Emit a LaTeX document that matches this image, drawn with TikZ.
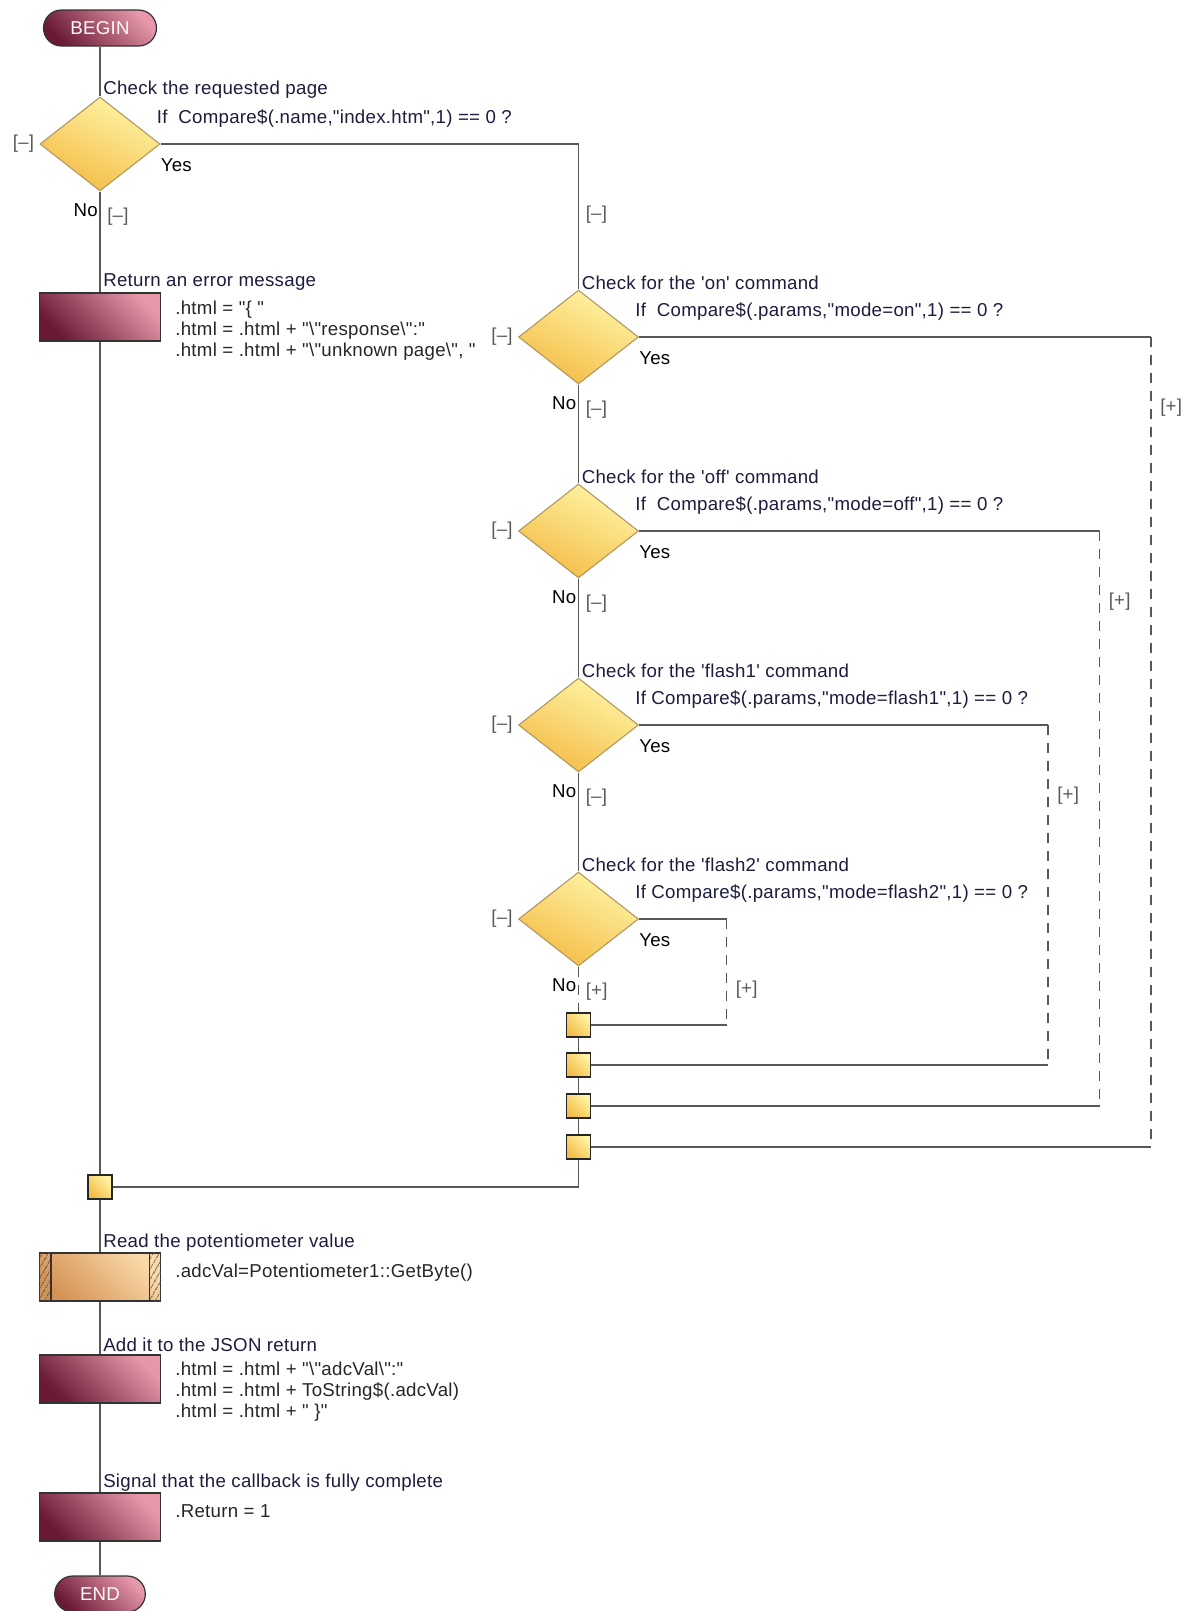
\documentclass[tikz,border=0pt]{standalone}
\usepackage{fontspec}
\setmainfont{Liberation Sans}[Ligatures=TeXOff, LetterSpace=1.5]
\usetikzlibrary{shapes.geometric,arrows,positioning,calc,patterns.meta}

\definecolor{maroonD}{RGB}{105,25,52}
\definecolor{maroonL}{RGB}{230,152,170}
\definecolor{goldL}{RGB}{255,244,165}
\definecolor{goldD}{RGB}{244,188,70}
\definecolor{goldE}{RGB}{175,150,95}
\definecolor{tanL}{RGB}{251,218,170}
\definecolor{tanD}{RGB}{212,146,84}
\definecolor{wire}{RGB}{88,88,88}
\definecolor{ink}{RGB}{28,28,62}

\tikzset{
  txt/.style={font=\fontsize{14}{16}\selectfont, inner sep=0pt},
  note/.style={txt, text=ink, anchor=west},
  code/.style={txt, text=black!85, align=left, anchor=north west},
  tog/.style={txt, text=black!65},
  wire/.style={draw=wire, line width=1.1pt},
  fold/.style={wire, dash pattern=on 7.5pt off 6pt},
  terminal/.style={rectangle, rounded corners=13.5pt, draw=black!80, line width=0.9pt,
    minimum width=84.75pt, minimum height=27pt, top color=maroonL, bottom color=maroonD,
    shading angle=-45, txt, text=white!92!pink},
  decision/.style={diamond, draw=goldE, line width=0.8pt, inner sep=0pt,
    minimum width=90pt, minimum height=70.5pt, top color=goldL, bottom color=goldD,
    shading angle=-25},
  action/.style={rectangle, draw=black!80, line width=0.9pt, inner sep=0pt,
    minimum width=90.75pt, minimum height=36pt, top color=maroonL, bottom color=maroonD,
    shading angle=-45},
  macro/.style={action, top color=tanL, bottom color=tanD, shading angle=-45},
  junction/.style={rectangle, draw=black!85, line width=0.9pt, inner sep=0pt,
    minimum size=18pt, top color=goldL, bottom color=goldD, shading angle=-45},
  hatch/.style={pattern={Lines[angle=60,distance=4pt,line width=0.6pt]}, pattern color=black!75}
}

\begin{document}
\begin{tikzpicture}[x=0.75pt,y=-0.75pt]
\useasboundingbox (0,0) rectangle (1190,1611);

% main column
\node[terminal] (begin) at (100,28) {BEGIN};
\node[decision] (pageQ) at (100,144) {};
\node[action] (errBox) at (100,317) {};
\node[junction] (pageJoin) at (100,1187) {};
\node[macro] (readBox) at (100,1277) {};
\node[action] (jsonBox) at (100,1379) {};
\node[action] (doneBox) at (100,1517) {};
\node[terminal, minimum width=68pt] (finish) at (100,1594) {END};

% command checks
\node[decision] (onQ) at (578.5,337) {};
\node[decision] (offQ) at (578.5,531) {};
\node[decision] (fl1Q) at (578.5,725) {};
\node[decision] (fl2Q) at (578.5,919) {};
\node[junction] (fl2Join) at (578.5,1025) {};
\node[junction] (fl1Join) at (578.5,1065) {};
\node[junction] (offJoin) at (578.5,1106) {};
\node[junction] (onJoin) at (578.5,1147) {};

\coordinate (pageYes) at (578.5,144);
\coordinate (onYes) at (1151,337);
\coordinate (offYes) at (1099.5,531);
\coordinate (fl1Yes) at (1048,725);
\coordinate (fl2Yes) at (726.5,919);

% connectors
\draw[wire] (begin) -- (pageQ);
\draw[wire] (pageQ) -- (errBox);
\draw[wire] (errBox) -- (pageJoin);
\draw[wire] (pageQ.east) -- (pageYes) -- (onQ.north);
\draw[wire] (onQ) -- (offQ);
\draw[wire] (offQ) -- (fl1Q);
\draw[wire] (fl1Q) -- (fl2Q);
\draw[fold] (fl2Q) -- (fl2Join);
\draw[wire] (fl2Join) -- (fl1Join) -- (offJoin) -- (onJoin);
\draw[wire] (onJoin) |- (pageJoin);
\draw[wire] (pageJoin) -- (readBox);
\draw[wire] (readBox) -- (jsonBox);
\draw[wire] (jsonBox) -- (doneBox);
\draw[wire] (doneBox) -- (finish);
\foreach \q/\j in {on/on, off/off, fl1/fl1, fl2/fl2} {
  \draw[wire] (\q Q.east) -- (\q Yes);
  \draw[fold] (\q Yes) -- (\q Yes |- \j Join);
  \draw[wire] (\q Yes |- \j Join) -- (\j Join);
}

% hatched ends of the macro box
\fill[hatch] (readBox.north west) rectangle ($(readBox.south west)+(12,0)$);
\fill[hatch] ($(readBox.north east)+(-12,0)$) rectangle (readBox.south east);
\draw[draw=black!80, line width=0.9pt] ($(readBox.north west)+(12,0)$) -- ($(readBox.south west)+(12,0)$);
\draw[draw=black!80, line width=0.9pt] ($(readBox.north east)+(-12,0)$) -- ($(readBox.south east)+(-12,0)$);

% decision texts
\node[note] (pageNote) at ($(pageQ.north)+(3,-7)$) {Check the requested page};
\node[note] (pageIf) at ($(pageQ.east)+(-4,-25)$) {If\ \ Compare\$(.name,"index.htm",1) == 0 ?};
\node[note] (onNote) at ($(onQ.north)+(3,-7)$) {Check for the 'on' command};
\node[note] (onIf) at ($(onQ.east)+(-4,-25)$) {If\ \ Compare\$(.params,"mode=on",1) == 0 ?};
\node[note] (offNote) at ($(offQ.north)+(3,-7)$) {Check for the 'off' command};
\node[note] (offIf) at ($(offQ.east)+(-4,-25)$) {If\ \ Compare\$(.params,"mode=off",1) == 0 ?};
\node[note] (fl1Note) at ($(fl1Q.north)+(3,-7)$) {Check for the 'flash1' command};
\node[note] (fl1If) at ($(fl1Q.east)+(-4,-25)$) {If Compare\$(.params,"mode=flash1",1) == 0 ?};
\node[note] (fl2Note) at ($(fl2Q.north)+(3,-7)$) {Check for the 'flash2' command};
\node[note] (fl2If) at ($(fl2Q.east)+(-4,-25)$) {If Compare\$(.params,"mode=flash2",1) == 0 ?};

\foreach \q in {page, on, off, fl1, fl2} {
  \node[txt, anchor=west] (\q YesTxt) at ($(\q Q.east)+(0,21)$) {Yes};
  \node[txt, anchor=east] (\q NoTxt) at ($(\q Q.south)+(-2,19)$) {No};
  \node[tog, anchor=east] (\q Side) at ($(\q Q.west)+(-5,0)$) {[–]};
}
\foreach \q in {page, on, off, fl1}
  \node[tog, anchor=west] (\q NoTog) at ($(\q Q.south)+(7,25)$) {[–]};
\node[tog, anchor=west] (fl2NoTog) at ($(fl2Q.south)+(7,25)$) {[+]};
\node[tog, anchor=west] (pageYesTog) at ($(pageYes)+(7,71)$) {[–]};
\foreach \q in {on, off, fl1, fl2}
  \node[tog, anchor=west] (\q YesTog) at ($(\q Yes)+(9,71)$) {[+]};

% box texts
\node[note] (errNote) at ($(errBox.north)+(3,-10)$) {Return an error message};
\node[code] (errCode) at ($(errBox.north east)+(14,8)$) {.html = "\{ "\\
.html = .html + "\textbackslash"response\textbackslash":"\\
.html = .html + "\textbackslash"unknown page\textbackslash", "};
\node[note] (readNote) at ($(readBox.north)+(3,-10)$) {Read the potentiometer value};
\node[code] (readCode) at ($(readBox.north east)+(14,11)$) {.adcVal=Potentiometer1::GetByte()};
\node[note] (jsonNote) at ($(jsonBox.north)+(3,-10)$) {Add it to the JSON return};
\node[code] (jsonCode) at ($(jsonBox.north east)+(14,7)$) {.html = .html + "\textbackslash"adcVal\textbackslash":"\\
.html = .html + ToString\$(.adcVal)\\
.html = .html + " \}"};
\node[note] (doneNote) at ($(doneBox.north)+(3,-10)$) {Signal that the callback is fully complete};
\node[code] (doneCode) at ($(doneBox.north east)+(14,12)$) {.Return = 1};
\end{tikzpicture}
\end{document}
